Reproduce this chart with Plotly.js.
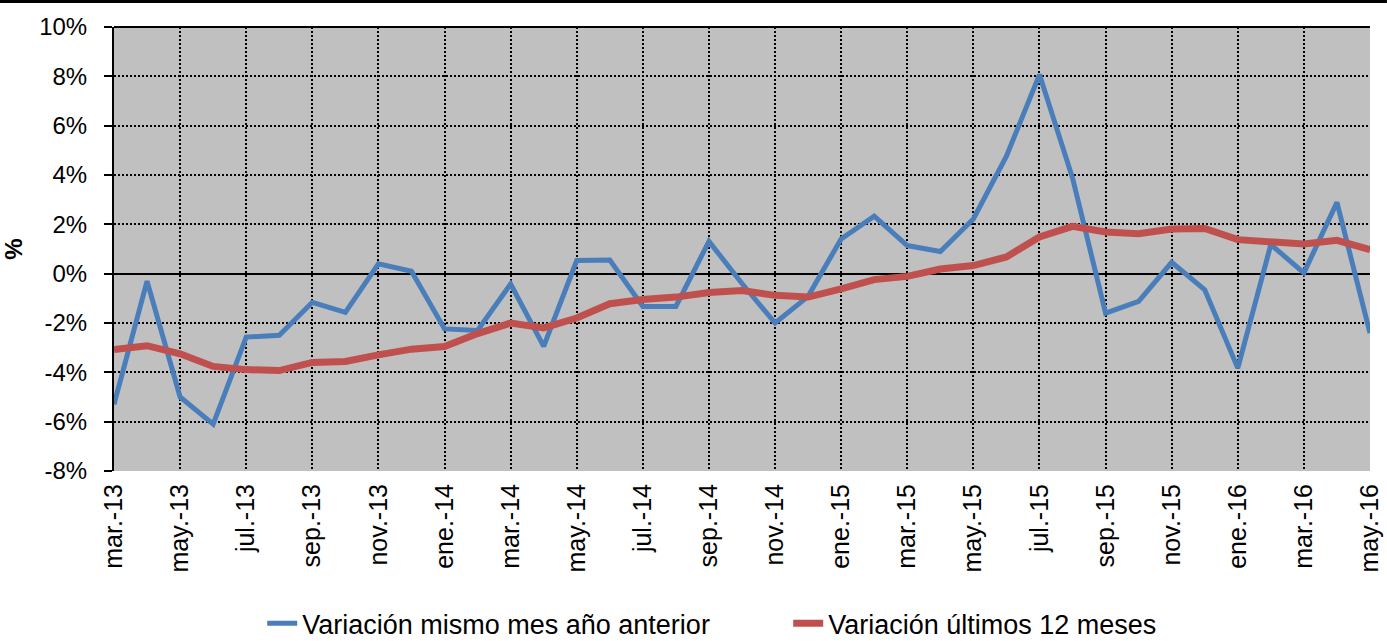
<!DOCTYPE html>
<html>
<head>
<meta charset="utf-8">
<script src="https://cdn.plot.ly/plotly-3.0.1.min.js"></script>
<style>html,body{margin:0;padding:0;background:#fff;}#chart{width:1387px;height:641px;}</style>
</head>
<body>
<div id="chart"></div>
<script>
const months = ["mar.-13","abr.-13","may.-13","jun.-13","jul.-13","ago.-13","sep.-13","oct.-13","nov.-13","dic.-13",
  "ene.-14","feb.-14","mar.-14","abr.-14","may.-14","jun.-14","jul.-14","ago.-14","sep.-14","oct.-14","nov.-14","dic.-14",
  "ene.-15","feb.-15","mar.-15","abr.-15","may.-15","jun.-15","jul.-15","ago.-15","sep.-15","oct.-15","nov.-15","dic.-15",
  "ene.-16","feb.-16","mar.-16","abr.-16","may.-16"];
const tickLabels = ["mar.-13","may.-13","jul.-13","sep.-13","nov.-13","ene.-14","mar.-14","may.-14","jul.-14","sep.-14",
  "nov.-14","ene.-15","mar.-15","may.-15","jul.-15","sep.-15","nov.-15","ene.-16","mar.-16","may.-16"];
const mismoMes = [-5.3,-0.3,-5.0,-6.1,-2.57,-2.5,-1.16,-1.57,0.4,0.1,
  -2.24,-2.3,-0.42,-2.95,0.53,0.55,-1.33,-1.33,1.31,-0.4,-2.0,-0.92,
  1.41,2.33,1.14,0.9,2.22,4.76,8.07,3.88,-1.6,-1.12,0.46,-0.65,
  -3.83,1.18,0.03,2.89,-2.41];
const ultimos12 = [-3.08,-2.92,-3.25,-3.76,-3.89,-3.93,-3.6,-3.56,-3.29,-3.06,
  -2.95,-2.43,-2.0,-2.2,-1.8,-1.22,-1.05,-0.95,-0.76,-0.68,-0.88,-0.95,
  -0.62,-0.24,-0.11,0.19,0.33,0.68,1.49,1.92,1.69,1.62,1.81,1.83,
  1.38,1.29,1.2,1.35,0.97];
const yTicks = [-8,-6,-4,-2,0,2,4,6,8,10];

const font = "Liberation Sans, Arial, sans-serif";
const traces = [
  {x: months, y: mismoMes, type: "scatter", mode: "lines", name: "Variación mismo mes año anterior",
   line: {color: "#4A7EBB", width: 5}},
  {x: months, y: ultimos12, type: "scatter", mode: "lines", name: "Variación últimos 12 meses",
   line: {color: "#C0504D", width: 7}}
];
const layout = {
  width: 1387, height: 641,
  margin: {l: 114, r: 17, t: 27, b: 170, autoexpand: false},
  paper_bgcolor: "#ffffff", plot_bgcolor: "#C0C0C0",
  font: {family: font, color: "#000", size: 24},
  showlegend: true,
  legend: {orientation: "h", x: 0.118, xanchor: "left", y: -0.344, yanchor: "middle",
    entrywidth: 481, entrywidthmode: "pixels",
    font: {family: font, size: 27, color: "#000"}, bgcolor: "rgba(0,0,0,0)"},
  xaxis: {type: "category", categoryorder: "array", categoryarray: months,
    range: [0, months.length - 1], tickvals: tickLabels, ticktext: tickLabels, tickangle: -90,
    showgrid: true, gridcolor: "#000", gridwidth: 2, griddash: "2px,2px",
    showline: false, zeroline: false, ticks: "", ticklabelstandoff: 7, automargin: false,
    tickfont: {family: font, size: 25, color: "#000"}},
  yaxis: {range: [-8, 10], tickvals: yTicks, ticktext: yTicks.map(v => v + "%"),
    showgrid: true, gridcolor: "#000", gridwidth: 2, griddash: "2px,2px",
    zeroline: true, zerolinecolor: "#000", zerolinewidth: 2,
    showline: true, linecolor: "#000", linewidth: 2, automargin: false,
    ticks: "outside", ticklen: 8, tickwidth: 2, tickcolor: "#000", ticklabelstandoff: 12,
    tickfont: {family: font, size: 24, color: "#000"},
    title: {text: "<b>%</b>", standoff: 22, font: {family: font, size: 24, color: "#000"}}},
  shapes: [
    {type: "line", xref: "paper", yref: "paper", x0: -0.0908, x1: 1.0135, y0: 1.0575, y1: 1.0575,
     line: {color: "#000", width: 3}},
    {type: "line", xref: "paper", yref: "paper", x0: 0, x1: 1, y0: 1, y1: 1,
     line: {color: "#000", width: 2}}
  ]
};
Plotly.newPlot("chart", traces, layout, {displayModeBar: false, staticPlot: true});
</script>
</body>
</html>
